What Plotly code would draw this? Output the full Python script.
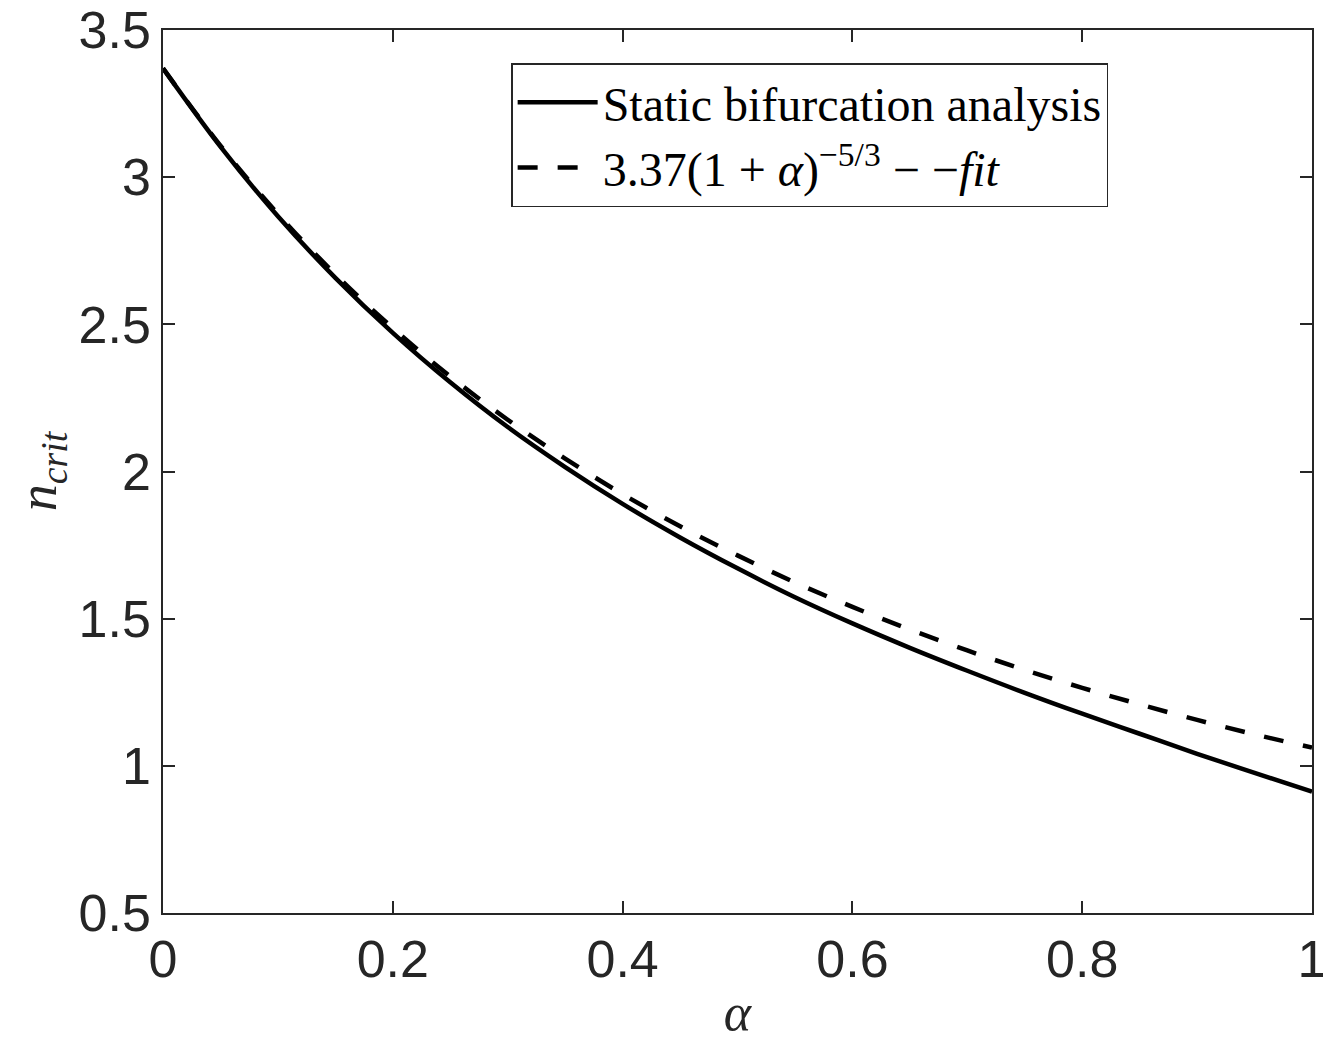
import plotly.graph_objects as go

# alpha values (x axis)
alpha = [0.00, 0.05, 0.10, 0.15, 0.20, 0.25, 0.30, 0.35, 0.40, 0.45, 0.50,
         0.55, 0.60, 0.65, 0.70, 0.75, 0.80, 0.85, 0.90, 0.95, 1.00]

# Static bifurcation analysis (solid line)
n_static = [3.370, 3.104, 2.867, 2.658, 2.471, 2.303, 2.151, 2.015, 1.890, 1.776, 1.671,
            1.573, 1.484, 1.401, 1.323, 1.248, 1.177, 1.109, 1.041, 0.976, 0.912]

# Fit curve (dashed line)
n_fit = [3.370, 3.107, 2.875, 2.670, 2.487, 2.323, 2.176, 2.044, 1.923, 1.814, 1.715,
         1.623, 1.540, 1.463, 1.392, 1.326, 1.265, 1.209, 1.156, 1.107, 1.062]

x_ticks = [0, 0.2, 0.4, 0.6, 0.8, 1]
x_ticklabels = ["0", "0.2", "0.4", "0.6", "0.8", "1"]
y_ticks = [0.5, 1, 1.5, 2, 2.5, 3, 3.5]
y_ticklabels = ["0.5", "1", "1.5", "2", "2.5", "3", "3.5"]

name_static = "Static bifurcation analysis"
name_fit = "3.37(1 + <i>α</i>)<sup>−5/3</sup> − −<i>fit</i>"

axis_color = "#262626"
tick_font = dict(family="Liberation Sans, Arial, Helvetica", size=52, color=axis_color)
serif = "Liberation Serif, Times New Roman, serif"

fig = go.Figure()
fig.add_trace(go.Scatter(
    x=alpha, y=n_static, mode="lines", name=name_static,
    line=dict(color="black", width=4.5, shape="spline"),
))
fig.add_trace(go.Scatter(
    x=alpha, y=n_fit, mode="lines", name=name_fit,
    line=dict(color="black", width=4.5, dash="20px,20px", shape="spline"),
))

# the page body adds an 8px offset, so the figure is sized to fit the window
fig.update_layout(
    width=1323, height=1036,
    margin=dict(l=155, r=19, t=22, b=131),
    plot_bgcolor="white", paper_bgcolor="white",
    showlegend=True,
    legend=dict(
        x=0.303, y=0.9626, xanchor="left", yanchor="top",
        bgcolor="white", bordercolor=axis_color, borderwidth=1.5,
        font=dict(family=serif, size=48, color="black"),
        itemwidth=80, tracegroupgap=0,
    ),
)
fig.update_xaxes(
    range=[0, 1], tickvals=x_ticks, ticktext=x_ticklabels,
    showline=True, mirror="ticks", linecolor=axis_color, linewidth=1.5,
    ticks="inside", ticklen=12, tickwidth=1.5, tickcolor=axis_color,
    showgrid=False, zeroline=False, tickfont=tick_font, automargin=False,
    ticklabeloverflow="allow",
    title=dict(text="<i>α</i>", font=dict(family=serif, size=52, color=axis_color), standoff=6),
)
fig.update_yaxes(
    range=[0.5, 3.5], tickvals=y_ticks, ticktext=y_ticklabels,
    showline=True, mirror="ticks", linecolor=axis_color, linewidth=1.5,
    ticks="inside", ticklen=12, tickwidth=1.5, tickcolor=axis_color,
    showgrid=False, zeroline=False, tickfont=tick_font, automargin=False,
    ticklabeloverflow="allow",
    title=dict(text="<i>n</i><sub><i>crit</i></sub>", font=dict(family=serif, size=54, color=axis_color), standoff=12),
)

fig.write_html("out.html")
